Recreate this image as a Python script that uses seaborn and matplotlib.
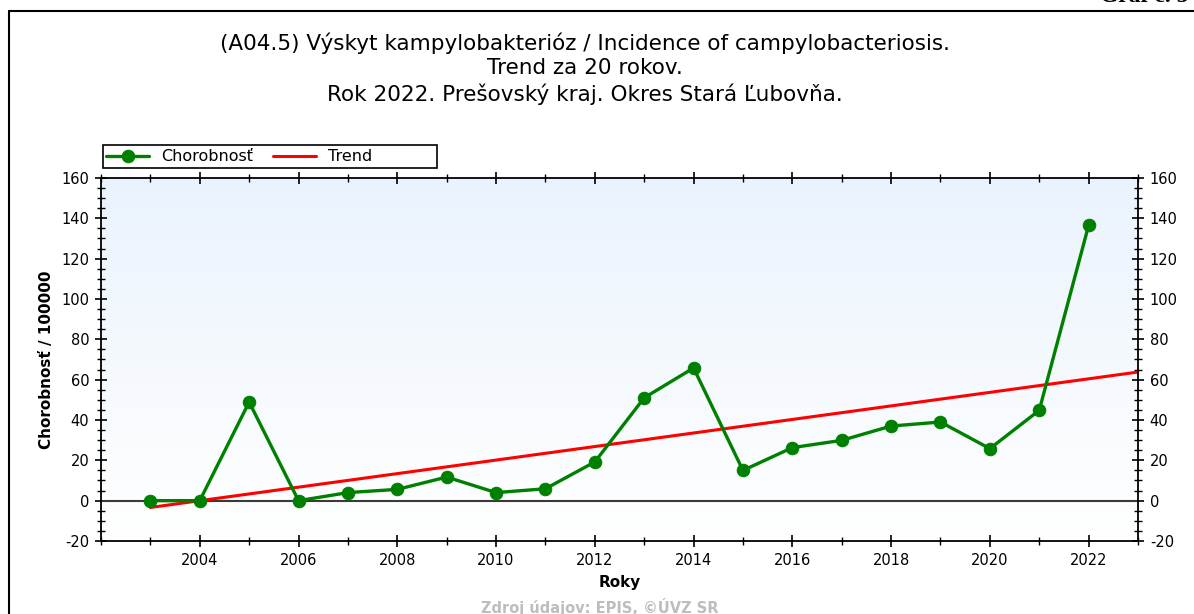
import numpy as np
import pandas as pd
import matplotlib
matplotlib.use("Agg")
import matplotlib.pyplot as plt
from matplotlib.colors import LinearSegmentedColormap
from matplotlib.lines import Line2D
from matplotlib.patches import Rectangle
from matplotlib.ticker import MultipleLocator
import seaborn as sns

sns.set_theme(style="white")
plt.rcParams['font.family'] = ['DejaVu Sans']
plt.rcParams['axes.unicode_minus'] = False
for key in ['text.color', 'axes.labelcolor', 'xtick.color', 'ytick.color']:
    plt.rcParams[key] = 'black'

# data
years = [2003, 2004, 2005, 2006, 2007, 2008, 2009, 2010, 2011, 2012,
         2013, 2014, 2015, 2016, 2017, 2018, 2019, 2020, 2021, 2022]
incidence = [0.0, 0.0, 48.9, 0.0, 4.0, 5.6, 11.7, 4.0, 5.9, 19.2,
             51.0, 65.8, 15.0, 26.3, 29.9, 37.0, 39.0, 25.8, 44.8, 136.5]
x_ticks = [2004, 2006, 2008, 2010, 2012, 2014, 2016, 2018, 2020, 2022]
y_ticks = [-20, 0, 20, 40, 60, 80, 100, 120, 140, 160]

title = ("(A04.5) Výskyt kampylobakterióz / Incidence of campylobacteriosis.\n"
         "Trend za 20 rokov.\n"
         "Rok 2022. Prešovský kraj. Okres Stará Ľubovňa.")

df = pd.DataFrame({'Roky': years, 'Chorobnosť': incidence})

# linear trend over the 20 years, extended to the right edge
slope, intercept = np.polyfit(df['Roky'], df['Chorobnosť'], 1)
trend_x = np.array([years[0], years[-1] + 1])
df_trend = pd.DataFrame({'Roky': trend_x, 'Trend': slope * trend_x + intercept})

fig = plt.figure(figsize=(11.94, 6.14), dpi=100)
ax = fig.add_axes([0.0846, 0.1189, 0.8685, 0.5912])

x_min, x_max = 2002, 2023
y_min, y_max = -20, 160

# light blue gradient background
grad = np.linspace(0, 1, 256).reshape(-1, 1)
cmap = LinearSegmentedColormap.from_list('bg', ['#ffffff', '#eaf3fd'])
ax.imshow(grad, extent=[x_min, x_max, y_min, y_max], origin='lower',
          aspect='auto', cmap=cmap, zorder=0)

ax.axhline(0, color='#3a3a3a', lw=1.5, zorder=1)

sns.lineplot(data=df_trend, x='Roky', y='Trend', color='#ff0000', lw=2.2,
             label='Trend', ax=ax, zorder=2)
sns.lineplot(data=df, x='Roky', y='Chorobnosť', color='#008000', lw=2.4,
             marker='o', markersize=9, markeredgecolor='#008000',
             label='Chorobnosť', ax=ax, zorder=3)

ax.set_xlim(x_min, x_max)
ax.set_ylim(y_min, y_max)
ax.set_xticks(x_ticks)
ax.set_yticks(y_ticks)
ax.xaxis.set_minor_locator(MultipleLocator(1))
ax.yaxis.set_minor_locator(MultipleLocator(5))
ax.tick_params(which='both', direction='inout', colors='black',
               top=True, right=True, left=True, bottom=True,
               labelright=True, labelsize=10.5, pad=4)
ax.tick_params(which='major', length=9, width=1.2)
ax.tick_params(which='minor', length=6, width=1.0)
for side in ['left', 'right', 'top', 'bottom']:
    ax.spines[side].set_color('black')
    ax.spines[side].set_linewidth(1.3)

ax.set_xlabel('Roky', fontsize=11, fontweight='bold', labelpad=5)
ax.set_ylabel('Chorobnosť / 100000', fontsize=11, fontweight='bold', labelpad=5)
ax.grid(False)

# legend box above the plot area
ax.add_patch(Rectangle((0.002, 1.027), 0.322, 0.063, transform=ax.transAxes,
                       facecolor='white', edgecolor='black', lw=1.2,
                       clip_on=False, zorder=5))
handles, labels = ax.get_legend_handles_labels()
order = [labels.index('Chorobnosť'), labels.index('Trend')]
leg = ax.legend([handles[i] for i in order], [labels[i] for i in order],
                loc='center left', bbox_to_anchor=(0.002, 1.0585),
                ncol=2, frameon=False, fontsize=11.5, handlelength=2.7,
                borderpad=0.2, borderaxespad=0, handletextpad=0.75,
                columnspacing=1.2)
leg.set_zorder(6)

fig.text(585 / 1194, 1 - 32 / 614, title, ha='center', va='top', fontsize=15.5,
         linespacing=1.3)

# page frame and header
fig.add_artist(Line2D([9 / 1194, 1], [1 - 11 / 614, 1 - 11 / 614],
                      color='black', lw=1.5))
fig.add_artist(Line2D([9 / 1194, 9 / 1194], [0, 1 - 11 / 614],
                      color='black', lw=1.5))
fig.text(1100 / 1194, 1 - 7 / 614, 'Graf č. 5', ha='left', va='bottom',
         fontsize=17, fontweight='bold', family=['Liberation Serif', 'DejaVu Serif'])
fig.text(600 / 1194, 1 - 598 / 614, 'Zdroj údajov: EPIS, ©ÚVZ SR', ha='center',
         va='top', fontsize=10.5, fontweight='bold', color='#bdbdbd')

fig.savefig('out.png', dpi=100)
